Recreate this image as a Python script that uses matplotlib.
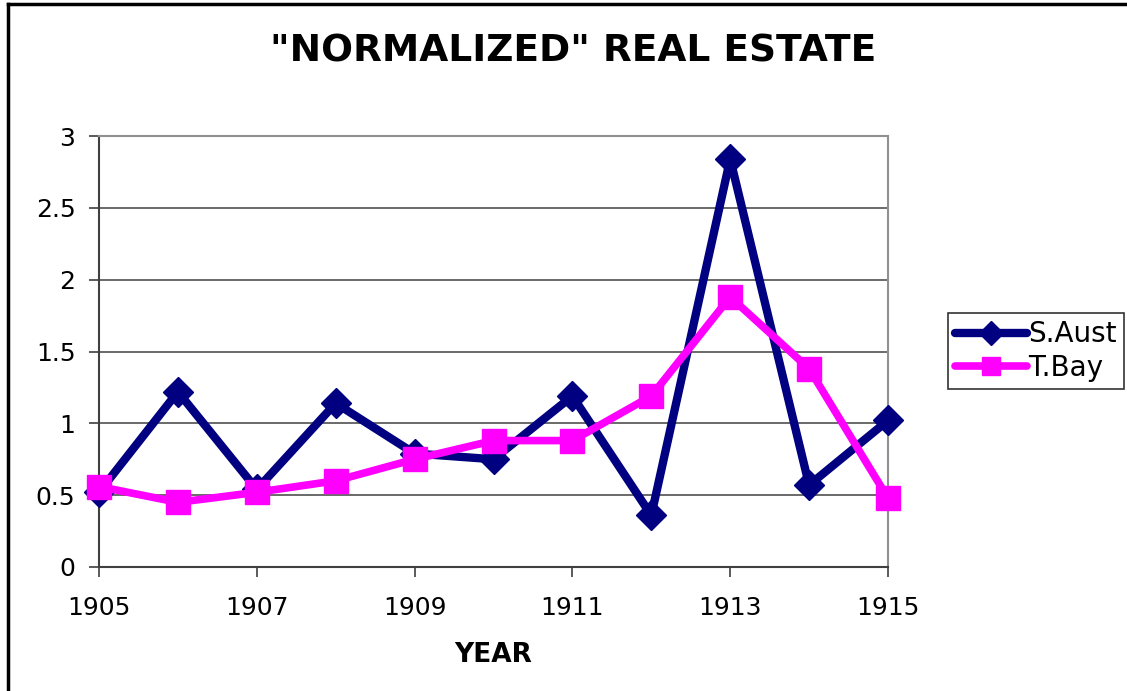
import matplotlib
matplotlib.use("Agg")
import matplotlib.pyplot as plt
from matplotlib.lines import Line2D

years = [1905, 1906, 1907, 1908, 1909, 1910, 1911, 1912, 1913, 1914, 1915]
s_aust = [0.52, 1.22, 0.54, 1.14, 0.79, 0.75, 1.19, 0.36, 2.84, 0.57, 1.02]
t_bay = [0.56, 0.45, 0.52, 0.60, 0.75, 0.88, 0.88, 1.19, 1.88, 1.38, 0.48]
xticks = [1905, 1907, 1909, 1911, 1913, 1915]
yticks = [0, 0.5, 1, 1.5, 2, 2.5, 3]
ytick_labels = ["0", "0.5", "1", "1.5", "2", "2.5", "3"]

plt.rcParams['font.family'] = ['DejaVu Sans']

fig = plt.figure(figsize=(11.27, 6.91), dpi=100)
W, H = 1127, 691
ax = fig.add_axes([99 / W, 1 - 567 / H, (888 - 99) / W, (567 - 136) / H])

ax.plot(years, s_aust, color='#000080', lw=6, marker='D', markersize=15,
        label='S.Aust', clip_on=False, zorder=3, solid_capstyle='round')
ax.plot(years, t_bay, color='#FF00FF', lw=5.5, marker='s', markersize=17,
        label='T.Bay', clip_on=False, zorder=4, solid_capstyle='round')

ax.set_xlim(1905, 1915)
ax.set_ylim(0, 3)
ax.set_xticks(xticks)
ax.set_xticklabels([str(x) for x in xticks])
ax.set_yticks(yticks)
ax.set_yticklabels(ytick_labels)
ax.tick_params(axis='both', labelsize=18, length=7, width=1.2, color='#404040')
ax.tick_params(axis='x', pad=14)
ax.tick_params(axis='y', pad=10)
ax.grid(axis='y', color='#505050', lw=1.2)
ax.set_axisbelow(True)
for side in ['top', 'right']:
    ax.spines[side].set_color('#909090')
    ax.spines[side].set_linewidth(1.5)
for side in ['left', 'bottom']:
    ax.spines[side].set_color('#404040')
    ax.spines[side].set_linewidth(1.5)

ax.set_xlabel('YEAR', fontsize=19, fontweight='bold', labelpad=16)
fig.text(573 / W, 1 - 52 / H, '"NORMALIZED" REAL ESTATE',
         ha='center', va='center', fontsize=27, fontweight='bold')

leg = ax.legend(loc='center left', bbox_to_anchor=(948 / W, 1 - 351 / H),
                bbox_transform=fig.transFigure, fontsize=20, frameon=True,
                fancybox=False, edgecolor='black', handlelength=2.6,
                handletextpad=0.05, borderpad=0.25, labelspacing=0.2,
                borderaxespad=0, markerscale=0.8)
leg.get_frame().set_linewidth(1.2)

fig.add_artist(Line2D([8 / W, 1], [1 - 4 / H, 1 - 4 / H], transform=fig.transFigure,
                      color='black', lw=2.5))
fig.add_artist(Line2D([8 / W, 8 / W], [0, 1 - 4 / H], transform=fig.transFigure,
                      color='black', lw=2.5))

fig.savefig('out.png', dpi=100)
